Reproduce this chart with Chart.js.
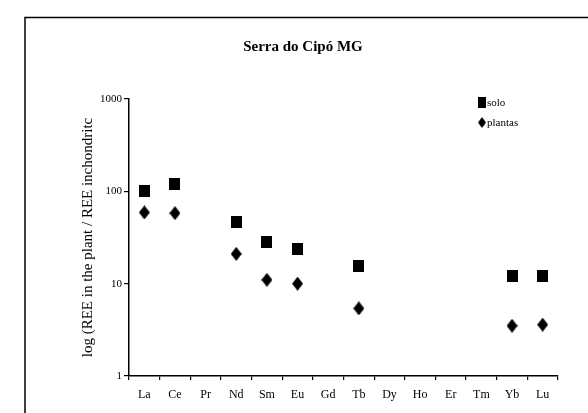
<!DOCTYPE html>
<html lang="en">
<head>
    <meta charset="UTF-8">
    <title>Serra do Cipó MG</title>
    <script src="https://cdn.jsdelivr.net/npm/chart.js@4.4.0/dist/chart.umd.min.js"></script>
    <style>
        html, body { margin: 0; padding: 0; background: #fff; }
        #wrap { position: relative; width: 588px; height: 413px; }
    </style>
</head>
<body>
    <div id="wrap"><canvas id="reeChart" width="588" height="413"></canvas></div>
    <script>
        // Rare earth elements (x axis)
        const elements = ['La', 'Ce', 'Pr', 'Nd', 'Sm', 'Eu', 'Gd', 'Tb', 'Dy', 'Ho', 'Er', 'Tm', 'Yb', 'Lu'];
        // Chondrite-normalised values, null where not measured
        const solo    = [100, 119, null, 46, 28, 24, null, 15.7, null, null, null, null, 12.2, 12.2];
        const plantas = [59, 58, null, 21, 11, 10, null, 5.4, null, null, null, null, 3.5, 3.6];
        const yTicks = [1, 10, 100, 1000];

        const serif = "'Liberation Serif', 'DejaVu Serif', serif";

        // marker shapes drawn on small canvases
        function makeSquare() {
            const c = document.createElement('canvas');
            c.width = 11; c.height = 12;
            const g = c.getContext('2d');
            g.fillStyle = '#000';
            g.fillRect(0, 0, 11, 12);
            return c;
        }
        function makeDiamond() {
            const c = document.createElement('canvas');
            c.width = 11; c.height = 14;
            const g = c.getContext('2d');
            g.fillStyle = '#000';
            g.beginPath();
            g.moveTo(5.5, 0); g.lineTo(11, 7); g.lineTo(5.5, 14); g.lineTo(0, 7);
            g.closePath(); g.fill();
            return c;
        }
        const squareImg = makeSquare();
        const diamondImg = makeDiamond();

        // frame, title, axis title and legend
        const decorations = {
            id: 'decorations',
            afterDraw(chart) {
                const ctx = chart.ctx;
                const area = chart.chartArea;
                ctx.save();
                ctx.strokeStyle = '#000';
                ctx.lineWidth = 1.5;
                ctx.beginPath();
                ctx.moveTo(25, 413); ctx.lineTo(25, 17.5); ctx.lineTo(588, 17.5);
                ctx.stroke();

                ctx.fillStyle = '#000';
                ctx.font = 'bold 15px ' + serif;
                ctx.textAlign = 'center';
                ctx.textBaseline = 'middle';
                ctx.fillText('Serra do Cipó MG', 303, 47);

                // y axis title
                ctx.save();
                ctx.translate(88, (area.top + area.bottom) / 2);
                ctx.rotate(-Math.PI / 2);
                ctx.font = '15px ' + serif;
                ctx.fillText('log (REE in the plant / REE inchondritc', 0, 0);
                ctx.restore();

                ctx.font = '11px ' + serif;
                ctx.textAlign = 'left';
                ctx.drawImage(squareImg, 478, 97, 8, 11);
                ctx.fillText('solo', 487, 103);
                ctx.drawImage(diamondImg, 478, 117, 8, 11);
                ctx.fillText('plantas', 487, 123);
                ctx.restore();
            }
        };

        new Chart(document.getElementById('reeChart'), {
            type: 'line',
            data: {
                labels: elements,
                datasets: [
                    { label: 'solo', data: solo, showLine: false, pointStyle: squareImg, borderColor: '#000', backgroundColor: '#000' },
                    { label: 'plantas', data: plantas, showLine: false, pointStyle: diamondImg, borderColor: '#000', backgroundColor: '#000' }
                ]
            },
            options: {
                responsive: false,
                animation: false,
                layout: { padding: { top: 99, left: 25, right: 30, bottom: 0 } },
                plugins: {
                    legend: { display: false },
                    title: { display: false },
                    tooltip: { enabled: false }
                },
                scales: {
                    x: {
                        type: 'category',
                        offset: true,
                        afterFit(scale) { scale.height = 37; },
                        grid: { display: true, offset: true, drawOnChartArea: false, tickLength: 4, color: '#000', lineWidth: 1.2 },
                        border: { display: true, color: '#000', width: 1.5 },
                        ticks: { color: '#000', font: { family: serif, size: 12 }, padding: 8, maxRotation: 0, autoSkip: false }
                    },
                    y: {
                        type: 'logarithmic',
                        min: 1,
                        max: 1000,
                        afterBuildTicks(scale) { scale.ticks = yTicks.map(v => ({ value: v })); },
                        afterFit(scale) { scale.width = 104; },
                        grid: { display: true, drawOnChartArea: false, tickLength: 5, color: '#000', lineWidth: 1.2 },
                        border: { display: true, color: '#000', width: 1.5 },
                        ticks: { color: '#000', font: { family: serif, size: 11 }, padding: 2, callback: v => String(v) }
                    }
                }
            },
            plugins: [decorations]
        });
    </script>
</body>
</html>
